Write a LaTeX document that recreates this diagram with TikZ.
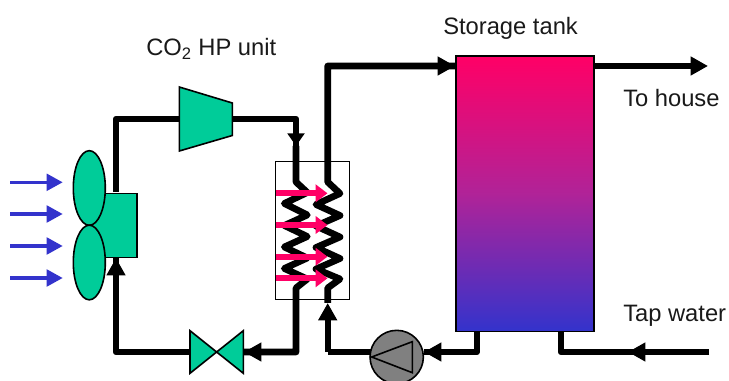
\documentclass[tikz,border=0pt]{standalone}
\usepackage{fontspec}
\setmainfont{Liberation Sans}
\usetikzlibrary{arrows.meta,shapes.geometric}
\definecolor{green1}{HTML}{00CC99}
\definecolor{pink1}{HTML}{FF0066}
\definecolor{blue1}{HTML}{3333CC}
\definecolor{mid1}{HTML}{B02398}
\begin{document}
\begin{tikzpicture}[x=0.75pt,y=-0.75pt,
  pipe/.style={line width=4.8pt,line join=round,draw=black},
  pipetip/.style={pipe,-{Triangle[length=13pt,width=13.5pt]}},
  coil/.style={line width=5pt,line join=round,draw=black},
  pinkarrow/.style={line width=4.5pt,draw=pink1,-{Triangle[length=9pt,width=13pt]}},
  bluearrow/.style={line width=2.3pt,draw=blue1,-{Triangle[length=12pt,width=12.5pt]}},
  part/.style={draw=black,fill=green1,line width=1.2pt,line join=miter},
  lbl/.style={anchor=base west,inner sep=0pt,font=\fontsize{17.8pt}{20pt}\selectfont,text=black!90}]
\useasboundingbox (0,0) rectangle (729,381);
% named points
\coordinate (fanTop) at (116,192);
\coordinate (c1) at (116,119);
\coordinate (compIn) at (179.3,119);
\coordinate (compOut) at (232.3,119);
\coordinate (c2) at (296,119);
\coordinate (hotTip) at (296,146);
\coordinate (leftTop) at (296,182);
\coordinate (leftBot) at (296,288);
\coordinate (rightTop) at (327.7,182);
\coordinate (rightBot) at (327.7,288);
\coordinate (c3) at (296,352);
\coordinate (valveR) at (244,352);
\coordinate (valveL) at (190,352);
\coordinate (c4) at (116,352);
\coordinate (fanTip) at (116,258);
\coordinate (c5) at (327.7,66);
\coordinate (tankIn) at (455,66);
\coordinate (tankOut) at (593,66);
\coordinate (houseEnd) at (708,66);
\coordinate (c6) at (476.7,352);
\coordinate (c7) at (561,352);
\coordinate (tapEnd) at (709,352);
\coordinate (tapTip) at (628,352);
\coordinate (pumpTip) at (424,352);
\coordinate (pumpOut) at (371,352);
\coordinate (c8) at (327.7,352);
\coordinate (retTip) at (327.7,303);
% exchanger box
\node[draw=black,line width=0.9pt,minimum width=55.9pt,minimum height=103.5pt,inner sep=0pt,anchor=north west] (hx) at (274.5,161) {};
% tank
\node[draw=black,line width=1.2pt,top color=pink1,bottom color=blue1,middle color=mid1,minimum width=103.5pt,minimum height=206.5pt,inner sep=0pt,anchor=north west] (tank) at (455,55.5) {};
% pipes
\draw[pipe] (fanTop) -- (c1) -- (compIn);
\draw[pipe] (compOut) -- (c2) -- (hotTip);
\draw[pipetip,-{Triangle[length=9.5pt,width=12.5pt]}] (c2) -- (hotTip);
\draw[coil] (hotTip) -- (leftTop)
  -- ++(11.3,10.5) -- ++(-23,11) -- ++(23,11.5) -- ++(-23,10.5) -- ++(23,11) -- ++(-23,10.5) -- ++(23,11) -- ++(-23,10.5) -- ++(23,10.5) -- (leftBot) -- (c3) -- (valveR);
\draw[pipetip] (c3) -- (valveR);
\draw[pipe] (valveL) -- (c4) -- (fanTip);
\draw[pipetip] (c4) -- (fanTip);
\draw[coil] (tankIn) -- (c5) -- (rightTop)
  -- ++(12.3,11.5) -- ++(-24,11) -- ++(24,11) -- ++(-24,10.5) -- ++(24,11) -- ++(-24,10.5) -- ++(24,11) -- ++(-24,10.5) -- ++(24,10) -- (rightBot) -- (retTip);
\draw[pipetip] (c8) -- (retTip);
\draw[pipetip] (c5) -- (tankIn);
\draw[pipe] (c8) -- (pumpOut);
\draw[pipe] (tank.south west -| c6) -- (c6) -- (pumpTip);
\draw[pipetip] (c6) -- (pumpTip);
\draw[pipetip] (tankOut) -- (houseEnd);
\draw[pipe] (tank.south west -| c7) -- (c7) -- (tapEnd);
\draw[pipetip] (tapEnd) -- (tapTip);
% heat arrows
\coordinate (h1) at (275.5,193.3); \coordinate (h1e) at (327.5,193.3);
\coordinate (h2) at (275.5,225); \coordinate (h2e) at (327.5,225);
\coordinate (h3) at (275.5,256.7); \coordinate (h3e) at (327.5,256.7);
\coordinate (h4) at (275.5,278.3); \coordinate (h4e) at (327.5,278.3);
\foreach \i in {1,2,3,4} \draw[pinkarrow] (h\i) -- (h\i e);
% air arrows
\foreach \i/\y in {1/182.3,2/214,3/246,4/278}{
  \coordinate (a\i) at (10,\y); \coordinate (b\i) at (62.7,\y);
  \draw[bluearrow] (a\i) -- (b\i);}
% fan
\node[part,minimum width=37pt,minimum height=48pt,inner sep=0pt,anchor=north east] (motor) at (137.5,192.7) {};
\node[part,ellipse,minimum width=24pt,minimum height=56pt,inner sep=0pt] (fan1) at (89.3,188) {};
\node[part,ellipse,minimum width=24pt,minimum height=56pt,inner sep=0pt] (fan2) at (89.3,262.5) {};
% compressor
\draw[part] (179.3,87) -- (232.3,103) -- (232.3,135.5) -- (179.3,151) -- cycle;
% valve
\draw[part] (190,330.7) -- (243.3,373.3) -- (243.3,330.7) -- (190,373.3) -- cycle;
% pump
\node[circle,draw=black,fill=black!50,line width=1.2pt,minimum size=40pt,inner sep=0pt] (pump) at (396.7,357) {};
\draw[line width=1.2pt,line join=miter] (412.3,341.7) -- (412.3,372.7) -- (371.7,357) -- cycle;
% labels
\node[lbl] (t1) at (146,56) {CO\textsubscript{2} HP unit};
\node[lbl] (t2) at (443,35) {Storage tank};
\node[lbl] (t3) at (623,107) {To house};
\node[lbl] (t4) at (623,321) {Tap water};
\end{tikzpicture}
\end{document}
